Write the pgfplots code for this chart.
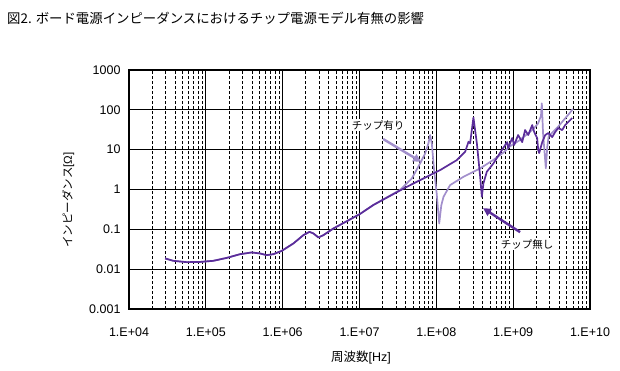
\documentclass[border=0pt]{standalone}
\usepackage{pgfplots}
\pgfplotsset{compat=1.18}
\usetikzlibrary{arrows.meta}
\usepackage{fontspec}
\setmainfont{Liberation Sans}
\newfontfamily\jp{Noto Sans CJK JP}
\definecolor{darkp}{HTML}{5B2D9A}
\definecolor{lightp}{HTML}{A28FCC}
\begin{document}
\begin{tikzpicture}[x=1pt,y=1pt]
\useasboundingbox (0,0) rectangle (620,370);
\node[anchor=west,inner sep=0pt,font=\fontsize{13.4}{16}\selectfont] at (7,352) {{\jp 図2. ボード電源インピーダンスにおけるチップ電源モデル有無の影響}};
\begin{axis}[
  at={(129pt,61pt)}, anchor=south west, scale only axis,
  width=461pt, height=239pt,
  xmode=log, ymode=log,
  xmin=1e4, xmax=1e10, ymin=1e-3, ymax=1e3,
  xtick={1e4,1e5,1e6,1e7,1e8,1e9,1e10},
  xticklabels={1.E+04,1.E+05,1.E+06,1.E+07,1.E+08,1.E+09,1.E+10},
  ytick={1e-3,1e-2,1e-1,1,10,100,1000},
  yticklabels={0.001,0.01,0.1,1,10,100,1000},
  /pgf/number format/assume math mode=true,
  major tick length=0pt, minor tick length=0pt,
  tick label style={font=\fontsize{12.5}{14}\selectfont},
  xticklabel style={yshift=-15pt},
  yticklabel style={xshift=-5pt},
  xmajorgrids, ymajorgrids, xminorgrids,
  major grid style={black, line width=0.9pt},
  minor grid style={black, line width=0.9pt, dash pattern=on 3pt off 2pt},
  axis line style={black, line width=1.2pt},
  xlabel={{\jp 周波数}[Hz]},
  ylabel={{\jp インピーダンス}[Ω]},
  xlabel style={font=\fontsize{12.5}{14}\selectfont, at={(axis description cs:0.503,-0.205)}, anchor=center},
  ylabel style={font=\fontsize{11.5}{13}\selectfont, at={(axis description cs:-0.132,0.456)}, anchor=center, rotate=0},
  clip=false,
]
\addplot[lightp, line width=1.7pt, line join=round] coordinates {
(2.95e4,0.0186) (3.78e4,0.0162) (5.64e4,0.0150) (8.40e4,0.0152) (1.25e5,0.0162)
(1.87e5,0.0192) (2.79e5,0.0238) (3.96e5,0.0263) (5.08e5,0.0248) (6.21e5,0.0225)
(7.57e5,0.0238) (9.73e5,0.0288) (1.38e6,0.0443) (1.86e6,0.0715) (2.23e6,0.0865)
(2.51e6,0.0789) (2.92e6,0.0625) (3.39e6,0.0715) (4.57e6,0.105) (6.84e6,0.160)
(1.02e7,0.245) (1.52e7,0.41) (3.38e7,0.98)
(4.80e7,1.90) (6.15e7,4.53) (7.15e7,8.07) (7.89e7,14.4) (8.30e7,23.3)
(8.73e7,14.4) (9.35e7,3.07) (1.01e8,0.80) (1.09e8,0.14) (1.16e8,0.40)
(1.24e8,0.656) (1.51e8,1.29) (2.25e8,2.08) (3.72e8,3.39) (5.5e8,5.5)
(7.5e8,8.5) (9.0e8,12) (1.2e9,17) (1.5e9,24) (1.8e9,32) (2.1e9,45)
(2.30e9,70) (2.36e9,146) (2.45e9,25) (2.66e9,3.4) (2.78e9,12) (2.90e9,22)
(3.3e9,28) (3.86e9,38) (4.35e9,50) (5.2e9,75) (6.0e9,105)
};
\addplot[darkp, line width=1.7pt, line join=round] coordinates {
(2.95e4,0.0186) (3.78e4,0.0162) (5.64e4,0.0150) (8.40e4,0.0152) (1.25e5,0.0162)
(1.87e5,0.0192) (2.79e5,0.0238) (3.96e5,0.0263) (5.08e5,0.0248) (6.21e5,0.0225)
(7.57e5,0.0238) (9.73e5,0.0288) (1.38e6,0.0443) (1.86e6,0.0715) (2.23e6,0.0865)
(2.51e6,0.0789) (2.92e6,0.0625) (3.39e6,0.0715) (4.57e6,0.105) (6.84e6,0.160)
(1.02e7,0.245) (1.52e7,0.41) (4.13e7,1.17) (1.12e8,3.07) (1.85e8,5.48)
(2.37e8,8.85) (2.62e8,15.8) (2.75e8,14.4) (3.04e8,64) (3.37e8,14.4)
(3.72e8,2.08) (3.91e8,0.656) (4.10e8,1.42) (4.54e8,2.79) (5.54e8,4.53)
(7.41e8,11.0) (8.36e8,15.5) (8.61e8,11.0) (9.71e8,19.6) (1.03e9,13.1)
(1.16e9,23.3) (1.31e9,15.5) (1.43e9,31.1) (1.57e9,23.3) (1.77e9,41.5)
(1.88e9,27.7) (2.05e9,19.6) (2.12e9,9.77) (2.18e9,8.22) (2.39e9,15.5)
(2.61e9,23.3) (2.86e9,26.1) (3.22e9,20.7) (3.52e9,27.7) (3.86e9,34.9)
(4.35e9,31.1) (4.75e9,41.5) (5.20e9,49.3) (5.86e9,62.2)
};
\node[fill=white, inner sep=1.5pt, font=\fontsize{10.5}{12}\selectfont] at (axis cs:1.75e7,41.5) {{\jp チップ有り}};
\draw[lightp, line width=2.4pt, -{Triangle[length=8pt,width=8pt]}] (axis cs:2.03e7,18.5) -- (axis cs:6.34e7,4.97);
\node[fill=white, inner sep=1.5pt, font=\fontsize{10.5}{12}\selectfont] at (axis cs:1.52e9,0.0425) {{\jp チップ無し}};
\draw[darkp, line width=2.4pt, -{Triangle[length=8pt,width=8pt]}] (axis cs:1.23e9,0.085) -- (axis cs:4.06e8,0.341);
\end{axis}
\end{tikzpicture}
\end{document}
